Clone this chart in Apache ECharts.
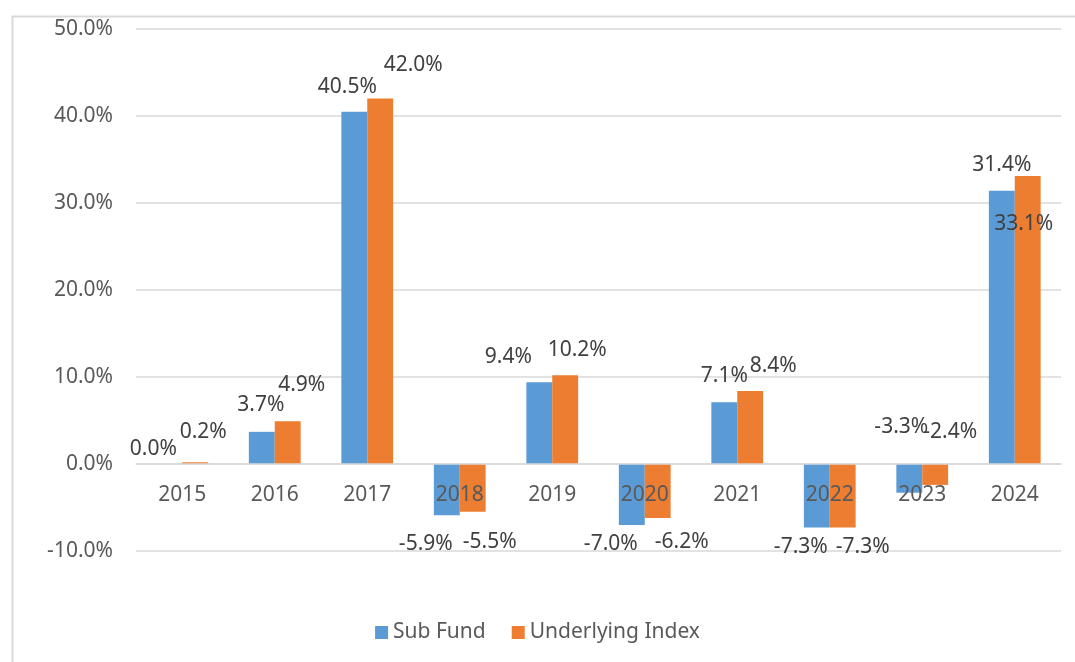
<!DOCTYPE html>
<html>
<head>
<meta charset="utf-8">
<title>Sub Fund vs Underlying Index</title>
<script src="https://cdn.jsdelivr.net/npm/echarts@6/dist/echarts.min.js"></script>
<style>
  html, body { margin: 0; padding: 0; background: #fff; }
  #chart { width: 1075px; height: 662px; }
</style>
</head>
<body>
<div id="chart"></div>
<script>
// data
var years = ["2015", "2016", "2017", "2018", "2019", "2020", "2021", "2022", "2023", "2024"];
var subFund = [0.0, 3.7, 40.5, -5.9, 9.4, -7.0, 7.1, -7.3, -3.3, 31.4];
var underlyingIndex = [0.2, 4.9, 42.0, -5.5, 10.2, -6.2, 8.4, -7.3, -2.4, 33.1];
var yTicks = { min: -10, max: 50, step: 10 };

// the labels in the original were dragged by hand, so nudge each one [dx, dy]
var subFundNudge = [[-16, 1], [-1, -11], [-7, -9], [-21, 13], [-31, -10], [-21, 4], [0, -11], [-16, 4], [-8, -81], [0, -10]];
var indexNudge = [[8, -15], [14, -21], [33, -18], [17, 15], [12, -10], [24, 9], [23, -9], [20, 4], [15, -68], [-4, 63]];

var textColor = "#595959";
var lineColor = "#d9d9d9";
var font = "'Noto Sans', sans-serif";

var gridTop = 29, gridBottom = 111, chartH = 662;

function withLabels(values, nudge) {
  return values.map(function (v, i) {
    return {
      value: v,
      label: { position: v < 0 ? "bottom" : "top", offset: nudge[i] }
    };
  });
}

// move the category axis up to the zero line (labels too)
var plotH = chartH - gridTop - gridBottom;
var zeroShift = -(0 - yTicks.min) / (yTicks.max - yTicks.min) * plotH;

var chart = echarts.init(document.getElementById("chart"), null, { renderer: "canvas" });

var labelStyle = {
  show: true,
  fontSize: 21,
  color: "#404040",
  fontFamily: font,
  formatter: function (p) { return p.value.toFixed(1) + "%"; }
};

chart.setOption({
  animation: false,
  backgroundColor: "#fff",
  color: ["#5b9bd5", "#ed7d31"],
  graphic: [{
    type: "rect",
    left: 10,
    top: 14,
    shape: { width: 1100, height: 647 },
    style: { fill: "none", stroke: lineColor, lineWidth: 2 },
    silent: true
  }],
  grid: { left: 136, right: 14, top: gridTop, bottom: gridBottom, containLabel: false },
  legend: {
    bottom: 14,
    left: "center",
    itemWidth: 13,
    itemHeight: 13,
    itemGap: 26,
    icon: "rect",
    textStyle: { fontSize: 21, color: textColor, fontFamily: font },
    data: ["Sub Fund", "Underlying Index"]
  },
  xAxis: {
    type: "category",
    data: years,
    offset: zeroShift,
    z: 5,
    axisLine: { onZero: false, lineStyle: { color: lineColor, width: 1.5 } },
    axisTick: { show: false },
    axisLabel: { fontSize: 21, color: textColor, fontFamily: font, margin: 21 }
  },
  yAxis: {
    type: "value",
    min: yTicks.min,
    max: yTicks.max,
    interval: yTicks.step,
    axisLine: { show: false },
    axisTick: { show: false },
    splitLine: { lineStyle: { color: lineColor, width: 1.5 } },
    axisLabel: {
      fontSize: 21, color: textColor, fontFamily: font, margin: 23,
      formatter: function (v) { return v.toFixed(1) + "%"; }
    }
  },
  series: [
    {
      name: "Sub Fund",
      type: "bar",
      barGap: "0%",
      barCategoryGap: "44%",
      data: withLabels(subFund, subFundNudge),
      label: labelStyle,
      z: 2
    },
    {
      name: "Underlying Index",
      type: "bar",
      data: withLabels(underlyingIndex, indexNudge),
      label: labelStyle,
      z: 2
    }
  ]
});
</script>
</body>
</html>
